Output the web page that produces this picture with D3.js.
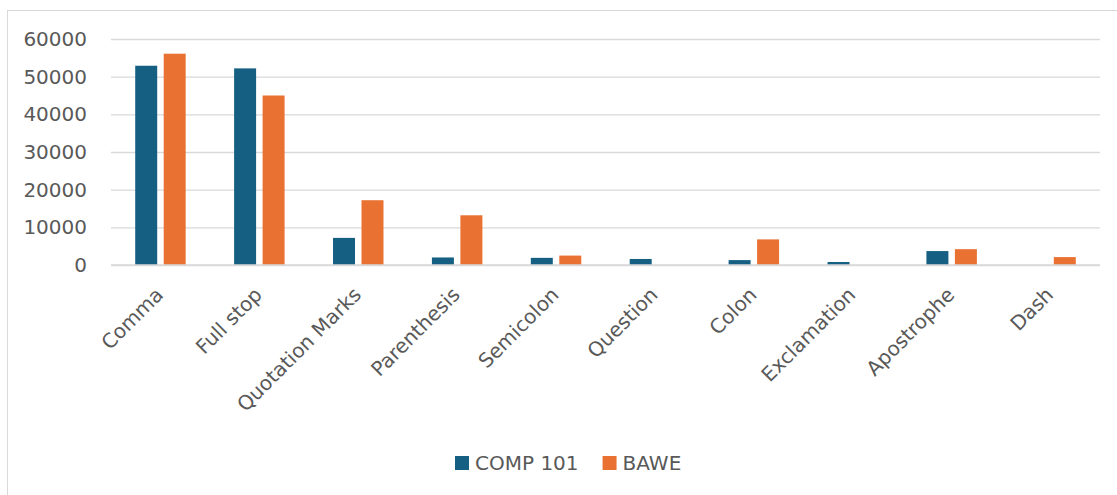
<!DOCTYPE html>
<html>
<head>
<meta charset="utf-8">
<script src="https://cdn.jsdelivr.net/npm/d3@7/dist/d3.min.js"></script>
<style>
  html, body { margin: 0; padding: 0; background: #fff; }
  svg { display: block; font-family: "DejaVu Sans", sans-serif; }
</style>
</head>
<body>
<svg id="chart" width="1117" height="495"></svg>
<script>
// Punctuation counts per corpus
const categories = ["Comma", "Full stop", "Quotation Marks", "Parenthesis", "Semicolon",
                    "Question", "Colon", "Exclamation", "Apostrophe", "Dash"];
const seriesNames = ["COMP 101", "BAWE"];
const comp101 = [52900, 52200, 7200, 2000, 1900, 1600, 1300, 800, 3700, 0];
const bawe    = [56100, 45000, 17200, 13200, 2500, 0, 6800, 0, 4200, 2100];
const yTicks  = [0, 10000, 20000, 30000, 40000, 50000, 60000];
const colors  = ["#156082", "#E97132"];

const svg = d3.select("#chart");
const textColor = "#595959";
const gridColor = "#d9d9d9";
const fontFamily = "DejaVu Sans, sans-serif";
const fontSize = 20;

// Chart area frame
svg.append("rect")
  .attr("x", 7.5).attr("y", 10.5)
  .attr("width", 1200).attr("height", 600)
  .attr("fill", "none").attr("stroke", gridColor).attr("stroke-width", 1);

const plot = { left: 111, right: 1100, top: 39, bottom: 265 };

const x = d3.scaleBand()
  .domain(categories)
  .range([plot.left, plot.right])
  .paddingInner(0).paddingOuter(0);

const y = d3.scaleLinear()
  .domain([0, 60000])
  .range([plot.bottom, plot.top]);

const xSub = d3.scaleBand()
  .domain(seriesNames)
  .range([0, x.bandwidth()])
  .paddingInner(0.228)
  .paddingOuter(0.85);

// Gridlines and y labels
const yAxis = d3.axisLeft(y).tickValues(yTicks)
  .tickSize(-(plot.right - plot.left)).tickFormat(d3.format("d")).tickPadding(24);
const gy = svg.append("g").attr("transform", `translate(${plot.left},0)`).call(yAxis);
gy.select(".domain").remove();
gy.selectAll(".tick line").attr("stroke", gridColor).attr("stroke-width", 1.3);
gy.selectAll(".tick text")
  .attr("fill", textColor).attr("font-size", fontSize)
  .attr("font-family", fontFamily);

// Bars
const data = categories.map((c, i) => ({ cat: c, values: [comp101[i], bawe[i]] }));
const groups = svg.append("g").selectAll("g")
  .data(data).join("g")
  .attr("transform", d => `translate(${x(d.cat)},0)`);

groups.selectAll("rect")
  .data(d => d.values.map((v, j) => ({ name: seriesNames[j], v, j })))
  .join("rect")
  .filter(d => d.v > 0)
  .attr("x", d => xSub(d.name))
  .attr("y", d => y(d.v))
  .attr("width", xSub.bandwidth())
  .attr("height", d => y(0) - y(d.v))
  .attr("fill", d => colors[d.j]);

// Category axis labels (rotated)
const xAxis = d3.axisBottom(x).tickSize(0).tickPadding(0);
const gx = svg.append("g").attr("transform", `translate(0,${plot.bottom})`).call(xAxis);
gx.select(".domain").remove();
gx.selectAll(".tick text")
  .attr("fill", textColor).attr("font-size", fontSize)
  .attr("font-family", fontFamily)
  .attr("text-anchor", "end")
  .attr("dy", 0)
  .attr("transform", "translate(4,31) rotate(-45)");

// Zero gridline on top of the bars' base
svg.append("line")
  .attr("x1", plot.left).attr("x2", plot.right)
  .attr("y1", y(0)).attr("y2", y(0))
  .attr("stroke", gridColor).attr("stroke-width", 1.3);

// Legend
const legend = svg.append("g").attr("font-family", fontFamily);
let lx = 455;
seriesNames.forEach((name, j) => {
  legend.append("rect").attr("x", lx).attr("y", 456).attr("width", 14).attr("height", 14).attr("fill", colors[j]);
  const t = legend.append("text").attr("x", lx + 20).attr("y", 470)
    .attr("font-size", fontSize).attr("fill", textColor).text(name);
  lx += 20 + t.node().getComputedTextLength() + 24;
});
</script>
</body>
</html>
